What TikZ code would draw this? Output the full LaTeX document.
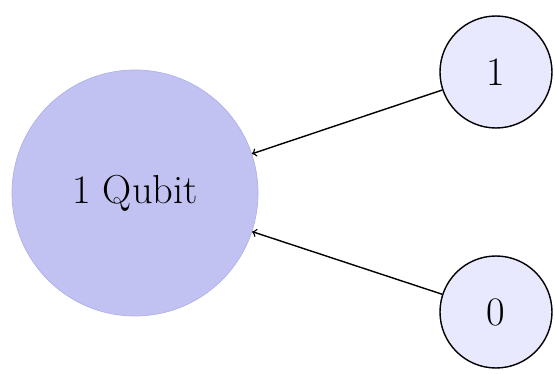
\documentclass[tikz,border=0pt]{standalone}
\usepackage{tikz}

\begin{document}
\begin{tikzpicture}[
    qubit/.style={circle, fill=blue!20!white!95!black, draw=blue!25!white!92!black, minimum size=4.92cm, inner sep=0pt},
    state/.style={circle, fill=blue!9, draw=black, thick, minimum size=2.24cm, inner sep=0pt}]

  \useasboundingbox (0, 0) rectangle (11.1, -7.48);
  \fontsize{23}{28}\selectfont

    % Qubit
    \node[qubit] (qubit) at (2.70, -3.86) {1 Qubit};

    % States
    \node[state] (one) at (9.92, -1.44) {1};
    \node[state] (zero) at (9.92, -6.24) {0};

    % Arrows
    \draw[->, thick] (one) -- (qubit);
    \draw[->, thick] (zero) -- (qubit);

\end{tikzpicture}
\end{document}
